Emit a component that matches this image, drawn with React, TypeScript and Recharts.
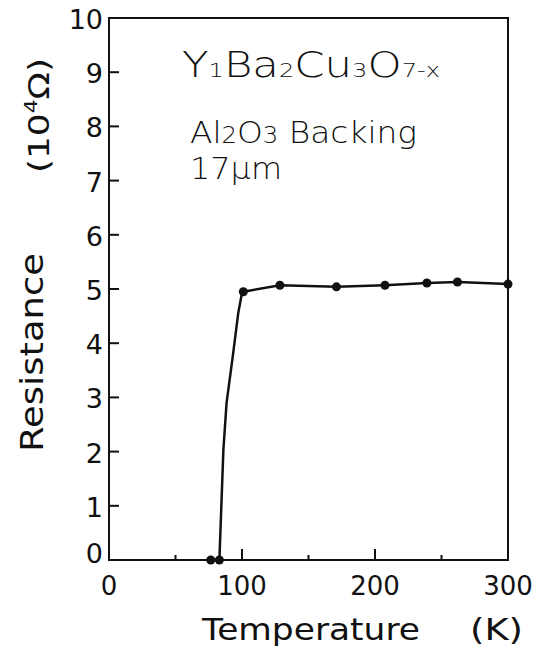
import React from 'react';
import {
  ComposedChart,
  Line,
  Scatter,
  XAxis,
  YAxis,
  ReferenceArea,
} from 'recharts';

// measured points (dots), temperature in K, resistance in 10^4 ohm
const measuredT = [76.5, 83, 101, 128.5, 171, 207.5, 239, 262, 300];
const measuredR = [0, 0, 4.95, 5.07, 5.04, 5.07, 5.11, 5.13, 5.09];

// hand drawn curve through the transition (no dots)
const curveT = [83, 86, 88.4, 93.4, 97.2, 99.7, 101, 128.5, 171, 207.5, 239, 262, 300];
const curveR = [0, 2.03, 2.9, 3.82, 4.56, 4.89, 4.95, 5.07, 5.04, 5.07, 5.11, 5.13, 5.09];

const xTicks = [0, 50, 100, 150, 200, 250, 300];
const yTicks = [0, 1, 2, 3, 4, 5, 6, 7, 8, 9, 10];

const measured = measuredT.map((t, i) => ({ t, r: measuredR[i] }));
const curve = curveT.map((t, i) => ({ t, r: curveR[i] }));

const FONT = '"DejaVu Sans", sans-serif';
const INK = '#111';

// ticks point into the plot, labels sit outside
function XTick(props: any) {
  const { x, y, payload } = props;
  const v = payload.value;
  const major = v % 100 === 0;
  const len = major ? 11 : 5;
  return (
    <g>
      {v !== 0 && v !== 300 && (
        <path d={`M${x},${y}L${x},${y - len}`} stroke={INK} strokeWidth={2} fill="none" />
      )}
      {major && (
        <text x={x} y={y + 35} textAnchor="middle" fontSize={26} fontFamily={FONT} fill={INK}>
          {v}
        </text>
      )}
    </g>
  );
}

function YTick(props: any) {
  const { x, y, payload } = props;
  const v = payload.value;
  return (
    <g>
      {v !== 0 && v !== 10 && (
        <path d={`M${x},${y}L${x + 10},${y}`} stroke={INK} strokeWidth={2} fill="none" />
      )}
      <text
        x={x - 6}
        y={y + (v === 0 ? 3 : 11)}
        textAnchor="end"
        fontSize={27}
        fontFamily={FONT}
        fill={INK}
      >
        {v}
      </text>
    </g>
  );
}

export default function App() {
  return (
    <div style={{ position: 'absolute', left: 0, top: 0, width: 537, height: 652, background: '#fff' }}>
      <ComposedChart
        width={537}
        height={652}
        margin={{ top: 18, right: 29, left: 0, bottom: 32 }}
      >
        <XAxis
          type="number"
          dataKey="t"
          domain={[0, 300]}
          ticks={xTicks}
          interval={0}
          height={60}
          tickSize={0}
          tickMargin={0}
          tickLine={false}
          axisLine={{ stroke: INK, strokeWidth: 2 }}
          tick={<XTick />}
        />
        <YAxis
          type="number"
          dataKey="r"
          domain={[0, 10]}
          ticks={yTicks}
          interval={0}
          width={109}
          tickSize={0}
          tickMargin={0}
          tickLine={false}
          axisLine={{ stroke: INK, strokeWidth: 2 }}
          tick={<YTick />}
        />
        <ReferenceArea x1={0} x2={300} y1={0} y2={10} fill="none" stroke={INK} strokeWidth={2} fillOpacity={0} />
        <Line
          data={curve}
          dataKey="r"
          type="linear"
          stroke={INK}
          strokeWidth={2.5}
          dot={false}
          activeDot={false}
          isAnimationActive={false}
        />
        <Scatter data={measured} dataKey="r" fill={INK} shape="circle" isAnimationActive={false} />
      </ComposedChart>
      <svg
        width={537}
        height={652}
        style={{ position: 'absolute', left: 0, top: 0, pointerEvents: 'none' }}
        fontFamily={FONT}
        fill={INK}
      >
        <g fontWeight={300}>
          <text x={182} y={77} fontSize={36} textLength={258} lengthAdjust="spacingAndGlyphs">
            Y<tspan fontSize={20}>1</tspan>Ba<tspan fontSize={20}>2</tspan>Cu
            <tspan fontSize={20}>3</tspan>O<tspan fontSize={20}>7-x</tspan>
          </text>
          <text x={190} y={143} fontSize={31} textLength={227} lengthAdjust="spacingAndGlyphs">
            Al<tspan fontSize={23}>2</tspan>O<tspan fontSize={23}>3</tspan> Backing
          </text>
          <text x={190} y={179} fontSize={31} textLength={92} lengthAdjust="spacingAndGlyphs">
            17μm
          </text>
        </g>
        <text x={202} y={640} fontSize={31} textLength={218} lengthAdjust="spacingAndGlyphs">
          Temperature
        </text>
        <text x={470} y={640} fontSize={31} textLength={53} lengthAdjust="spacingAndGlyphs">
          (K)
        </text>
        <text
          x={0}
          y={0}
          fontSize={32}
          transform="translate(43,452) rotate(-90)"
          textLength={199}
          lengthAdjust="spacingAndGlyphs"
        >
          Resistance
        </text>
        <text
          x={0}
          y={0}
          fontSize={28}
          transform="translate(49,173) rotate(-90)"
          textLength={115}
          lengthAdjust="spacingAndGlyphs"
        >
          (10<tspan fontSize={17} dy={-12}>4</tspan>
          <tspan dy={12}>Ω)</tspan>
        </text>
      </svg>
    </div>
  );
}
